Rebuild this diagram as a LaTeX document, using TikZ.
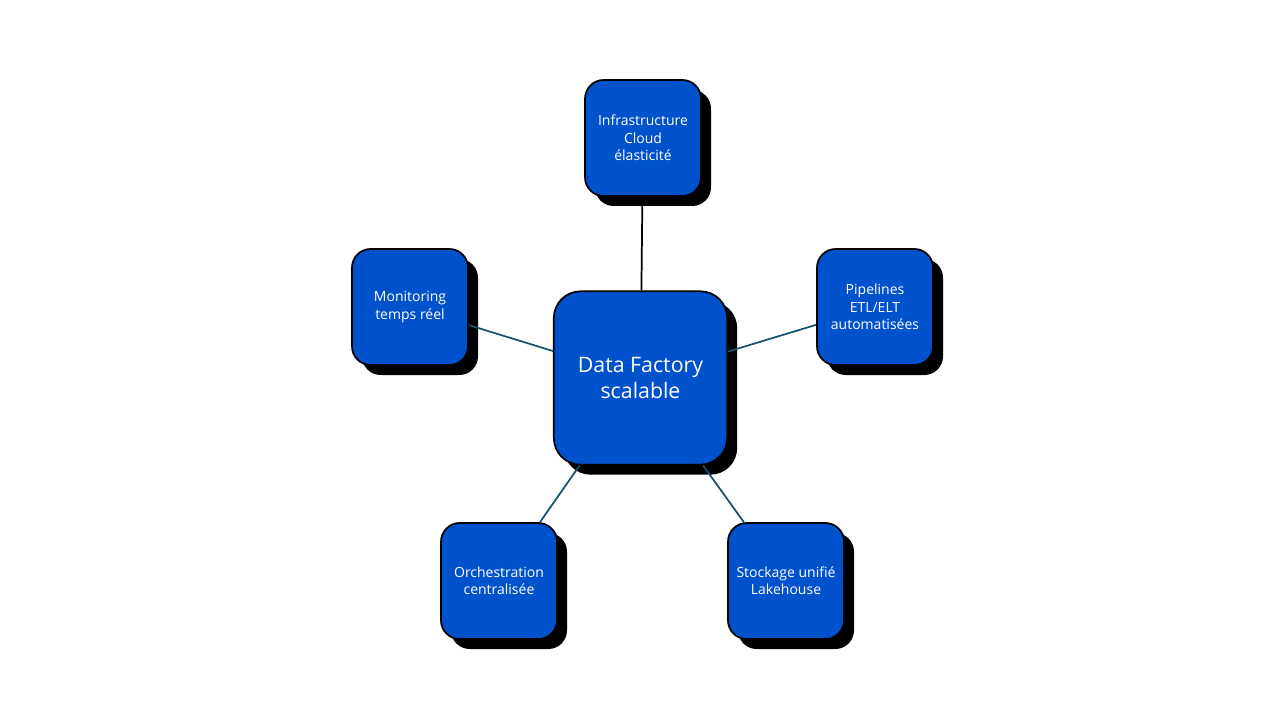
\documentclass[tikz,border=0pt]{standalone}
\usepackage{fontspec}
\setmainfont{Open Sans}
\usetikzlibrary{shadows}
\definecolor{boxblue}{RGB}{0,82,204}
\definecolor{linkteal}{RGB}{22,80,110}

\begin{document}
\begin{tikzpicture}[x=0.75pt,y=-0.75pt,
		box/.style={draw=black,line width=1.3pt,fill=boxblue,rounded corners=14pt,
			text=white,align=center,font=\fontsize{10.5}{13}\selectfont,
			minimum width=87pt,minimum height=87pt,inner sep=2pt,
			general shadow={fill=black,shadow xshift=7.5pt,shadow yshift=-7.5pt}},
		hubbox/.style={box,rounded corners=20pt,minimum width=130pt,minimum height=130pt,
			font=\fontsize{16}{19.5}\selectfont},
		link/.style={draw=linkteal,line width=1.3pt}]
			\useasboundingbox (0, 0) rectangle (1280, 720);
			\node[hubbox] (hub) at (640.5, 378) {Data Factory\\scalable};
			\node[box] (cloud) at (643, 138) {Infrastructure\\Cloud\\élasticité};
			\node[box] (pipe) at (875, 307) {Pipelines\\ETL/ELT\\automatisées};
			\node[box] (monit) at (410, 307) {Monitoring\\temps réel};
			\node[box] (orch) at (499, 581) {Orchestration\\centralisée};
			\node[box] (lake) at (786, 581) {Stockage unifié\\Lakehouse};
			\draw[line width=1.3pt] (cloud) -- (hub);
			\draw[link] (monit) -- (hub);
			\draw[link] (pipe) -- (hub);
			\draw[link] (orch) -- (hub);
			\draw[link] (lake) -- (hub);
		\end{tikzpicture}
\end{document}
